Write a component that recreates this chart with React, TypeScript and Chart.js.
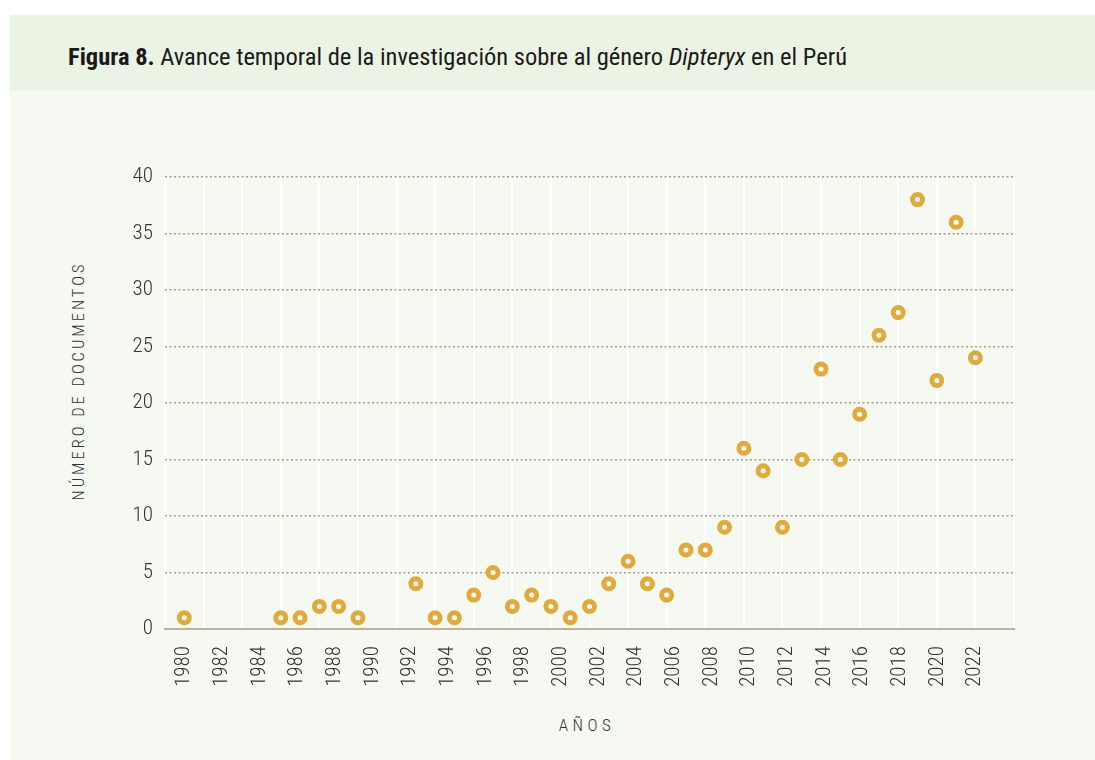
import React, { useEffect, useRef } from "react";
import { Chart, registerables } from "chart.js";

Chart.register(...registerables);

const YEARS = [1980, 1985, 1986, 1987, 1988, 1989, 1992, 1993, 1994, 1995, 1996, 1997, 1998, 1999, 2000, 2001, 2002, 2003, 2004, 2005, 2006, 2007, 2008, 2009, 2010, 2011, 2012, 2013, 2014, 2015, 2016, 2017, 2018, 2019, 2020, 2021];
const DOCS = [1, 1, 1, 2, 2, 1, 4, 1, 1, 3, 5, 2, 3, 2, 1, 2, 4, 6, 4, 3, 7, 7, 9, 16, 14, 9, 15, 23, 15, 19, 26, 28, 38, 22, 36, 24];
const YEAR_LABELS = [1980, 1982, 1984, 1986, 1988, 1990, 1992, 1994, 1996, 1998, 2000, 2002, 2004, 2006, 2008, 2010, 2012, 2014, 2016, 2018, 2020, 2022];
const Y_TICKS = [0, 5, 10, 15, 20, 25, 30, 35, 40];

const FONT = "'Roboto Condensed', 'Liberation Sans Narrow', Roboto, sans-serif";
const GOLD = "#e0ab3c";

export default function App() {
  const ref = useRef<HTMLCanvasElement>(null);

  useEffect(() => {
    document.body.style.margin = "0";
    const ctx = ref.current!;
    const chart = new Chart(ctx, {
      type: "scatter",
      data: {
        datasets: [
          {
            data: YEARS.map((y, i) => ({ x: y, y: DOCS[i] })),
            backgroundColor: "#ffffff",
            borderColor: GOLD,
            borderWidth: 5,
            pointRadius: 5,
            pointHoverRadius: 5,
            showLine: false,
            xAxisID: "x",
            yAxisID: "y",
          },
        ],
      },
      options: {
        animation: false,
        responsive: false,
        maintainAspectRatio: false,
        events: [],
        layout: { padding: { left: 0, top: 177, right: 81, bottom: 0 } },
        plugins: { legend: { display: false }, tooltip: { enabled: false }, title: { display: false } },
        scales: {
          x: {
            type: "linear",
            position: "bottom",
            min: 1979,
            max: 2023,
            ticks: { stepSize: 2, display: false },
            grid: { color: "rgba(255,255,255,0.95)", lineWidth: 2, drawTicks: false },
            border: { display: true, color: "#bcb2a0", width: 2 },
            afterFit: (s: any) => {
              s.height = 0;
            },
          },
          x2: {
            type: "linear",
            position: "bottom",
            min: 1978.991,
            max: 2024.07,
            afterBuildTicks: (s: any) => {
              s.ticks = YEAR_LABELS.map((v) => ({ value: v }));
            },
            ticks: {
              autoSkip: false,
              maxRotation: 90,
              minRotation: 90,
              padding: 17,
              color: "#333333",
              font: { family: FONT, size: 21, weight: "300" },
              callback: (v: any) => String(v),
            },
            grid: { display: false, drawTicks: false },
            border: { display: false },
            afterFit: (s: any) => {
              s.height = 131;
            },
          },
          y: {
            type: "linear",
            min: 0,
            max: 40,
            afterBuildTicks: (s: any) => {
              s.ticks = Y_TICKS.map((v) => ({ value: v }));
            },
            ticks: {
              padding: 12,
              color: "#333333",
              font: { family: FONT, size: 21, weight: "300" },
            },
            grid: { color: "#a99b87", lineWidth: 1.5, borderDash: [2, 2.5], drawTicks: false } as any,
            border: { display: false, dash: [2, 2.5] },
            afterFit: (s: any) => {
              s.width = 165;
            },
          },
        },
      },
    } as any);
    return () => chart.destroy();
  }, []);

  return (
    <div style={{ position: "relative", width: 1095, height: 760, background: "#ffffff", overflow: "hidden" }}>
      <div style={{ position: "absolute", left: 10, top: 15, width: 1085, height: 76, background: "#ebf3e4" }} />
      <div style={{ position: "absolute", left: 10, top: 91, width: 1085, height: 669, background: "#f6f9f2" }} />
      <div
        style={{
          position: "absolute",
          left: 68,
          top: 42,
          fontFamily: FONT,
          fontSize: 24.5,
          color: "#1a1a1a",
          whiteSpace: "nowrap",
          lineHeight: "30px",
        }}
      >
        <b>Figura 8.</b> Avance temporal de la investigación sobre al género <i>Dipteryx</i> en el Perú
      </div>
      <div
        style={{
          position: "absolute",
          left: 78,
          top: 381,
          transform: "translate(-50%, -50%) rotate(-90deg)",
          fontFamily: FONT,
          fontSize: 16.5,
          fontWeight: 300,
          letterSpacing: "3px",
          color: "#333333",
          whiteSpace: "nowrap",
        }}
      >
        NÚMERO DE DOCUMENTOS
      </div>
      <div
        style={{
          position: "absolute",
          left: 587,
          top: 725,
          transform: "translate(-50%, -50%)",
          fontFamily: FONT,
          fontSize: 17,
          fontWeight: 300,
          letterSpacing: "4.5px",
          color: "#333333",
          whiteSpace: "nowrap",
        }}
      >
        AÑOS
      </div>
      <canvas ref={ref} width={1095} height={760} style={{ position: "absolute", left: 0, top: 0 }} />
    </div>
  );
}
